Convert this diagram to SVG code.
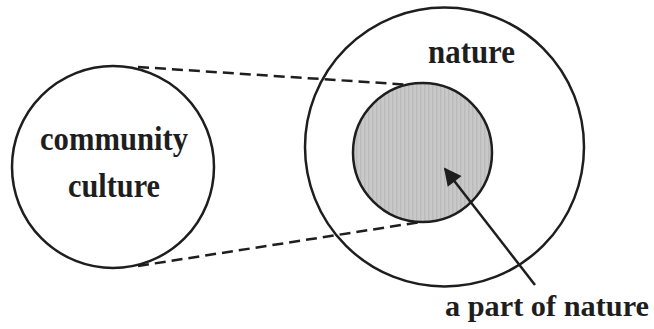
<svg xmlns="http://www.w3.org/2000/svg" width="654" height="329" viewBox="0 0 654 329">
<style>
.c{fill:none;stroke:#1e1e1e;stroke-width:2.5}
.d{stroke:#1e1e1e;stroke-width:2.5;stroke-dasharray:11 6;fill:none}
.t{font-family:"Liberation Serif","Times New Roman",serif;font-weight:bold;font-size:33px;fill:#1e1e1e}
</style>
<defs>
<pattern id="stripe" width="4" height="10" patternUnits="userSpaceOnUse">
<rect width="4" height="10" fill="#c9c9c9"/>
<rect width="1.5" height="10" fill="#bbbbbb"/>
</pattern>
<marker id="ah" viewBox="0 0 10 10" refX="9" refY="5" markerWidth="8" markerHeight="7" markerUnits="strokeWidth" orient="auto">
<path d="M0,0 L10,5 L0,10 Z" fill="#1e1e1e"/>
</marker>
</defs>
<g id="connectors">
<line class="d" x1="138" y1="67" x2="412" y2="85"/>
<line class="d" x1="138" y1="266" x2="440" y2="219"/>
</g>
<g id="community-culture">
<circle class="c" cx="113" cy="167" r="101"/>
<text class="t" x="40" y="150" textLength="148" lengthAdjust="spacingAndGlyphs">community</text>
<text class="t" x="68" y="197" textLength="92" lengthAdjust="spacingAndGlyphs">culture</text>
</g>
<g id="nature">
<circle class="c" cx="444.5" cy="147" r="139.5"/>
<text class="t" x="428" y="63" textLength="87" lengthAdjust="spacingAndGlyphs">nature</text>
</g>
<g id="part-of-nature">
<circle cx="422.5" cy="152.5" r="69.5" fill="url(#stripe)" stroke="#1e1e1e" stroke-width="2.5"/>
</g>
<g id="arrow">
<line x1="535" y1="285" x2="445" y2="169" stroke="#1e1e1e" stroke-width="2.5" marker-end="url(#ah)"/>
<text class="t" x="445" y="316" style="font-size:30px" textLength="204" lengthAdjust="spacingAndGlyphs">a part of nature</text>
</g>
</svg>
